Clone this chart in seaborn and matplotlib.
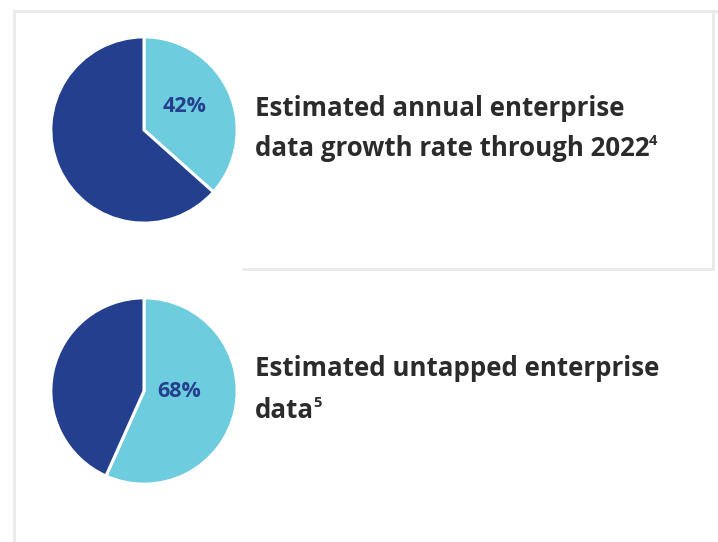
import matplotlib
matplotlib.use("Agg")
import matplotlib.pyplot as plt
from matplotlib.lines import Line2D
import seaborn as sns

# values (wedge share, light part first)
top_shares = [36.6, 63.4]
bottom_shares = [56.7, 43.3]
top_label = "42%"
bottom_label = "68%"
top_lines = ["Estimated annual enterprise", "data growth rate through 2022"]
top_note = "4"
bottom_lines = ["Estimated untapped enterprise", "data"]
bottom_note = "5"

light = "#6DCCDE"
dark = "#243F8E"
ink = "#2B2B2B"
rule = "#EBEBEB"

sns.set_theme(style="white")
plt.rcParams['font.family'] = ['Open Sans', 'DejaVu Sans']

W, H = 718, 542
fig = plt.figure(figsize=(W / 100, H / 100), dpi=100)
fig.patch.set_facecolor("white")


def px_axes(cx, cy, r):
    # axes square around a pie centre given in pixels (y from top)
    return fig.add_axes([(cx - r) / W, 1 - (cy + r) / H, 2 * r / W, 2 * r / H])


def draw_pie(ax, shares, label, lx, ly):
    ax.pie(shares, colors=[light, dark], startangle=90, counterclock=False,
           radius=1, wedgeprops=dict(edgecolor="white", linewidth=2.2))
    ax.set_xlim(-1.02, 1.02)
    ax.set_ylim(-1.02, 1.02)
    ax.set_aspect("equal")
    ax.axis("off")
    ax.text(lx, ly, label, ha="center", va="center", fontsize=15.5,
            fontweight="bold", color=dark)


draw_pie(px_axes(144, 130, 95), top_shares, top_label, 0.44, 0.25)
draw_pie(px_axes(144, 391, 95), bottom_shares, bottom_label, 0.38, -0.01)

# frame rules
for x0, y0, x1, y1 in [(14, 11, 718, 11), (14, 11, 14, 542),
                       (713, 11, 713, 268), (243, 269, 713, 269)]:
    fig.add_artist(Line2D([x0 / W, x1 / W], [1 - y0 / H, 1 - y1 / H],
                          color=rule, lw=2.2, transform=fig.transFigure))


def block(lines, note, baselines):
    last = None
    for txt, yb in zip(lines, baselines):
        last = fig.text(255 / W, 1 - yb / H, txt, fontsize=18.6,
                        fontweight="bold", color=ink, va="baseline", ha="left")
    fig.canvas.draw()
    bb = last.get_window_extent(renderer=fig.canvas.get_renderer())
    fig.text((bb.x1 - 1) / W, 1 - (baselines[-1] - 11) / H, note,
             fontsize=10.5, fontweight="bold", color=ink, va="baseline", ha="left")


block(top_lines, top_note, [116, 156])
block(bottom_lines, bottom_note, [376, 418])

fig.savefig("out.png", dpi=100, facecolor="white")
